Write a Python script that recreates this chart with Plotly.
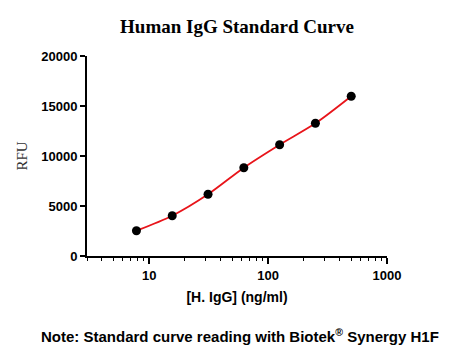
import plotly.graph_objects as go

conc = [7.8125, 15.625, 31.25, 62.5, 125, 250, 500]
rfu = [2530, 4030, 6170, 8830, 11130, 13270, 15980]
x_ticks = [10, 100, 1000]
y_ticks = [0, 5000, 10000, 15000, 20000]

fig = go.Figure()
fig.add_trace(go.Scatter(x=conc, y=rfu, mode="lines", line=dict(color="#e8141a", width=1.8, shape="spline", smoothing=0.8),
                         hoverinfo="skip", showlegend=False))
fig.add_trace(go.Scatter(x=conc, y=rfu, mode="markers", marker=dict(color="black", size=9),
                         showlegend=False))

fig.update_layout(
    width=449, height=357,
    margin=dict(l=87, r=62, t=56, b=101),
    paper_bgcolor="white", plot_bgcolor="white",
    title=dict(text="<b>Human IgG Standard Curve</b>", x=237/449, xanchor="center", y=1-26/357, yanchor="middle",
               font=dict(family="Liberation Serif", size=19, color="black")),
    font=dict(family="Liberation Sans", color="black"),
)
fig.update_xaxes(type="log", range=[0.477, 3], tickvals=x_ticks, ticktext=["<b>%d</b>" % v for v in x_ticks],
                 showline=True, linecolor="black", linewidth=2, ticks="outside", ticklen=6, tickwidth=1.5,
                 tickcolor="black", showgrid=False, zeroline=False,
                 tickfont=dict(family="Liberation Sans", size=13, color="black"),
                 minor=dict(ticks="outside", ticklen=3, tickwidth=1.2, tickcolor="black", dtick="D1", showgrid=False),
                 title=dict(text="<b>[H. IgG] (ng/ml)</b>", font=dict(family="Liberation Sans", size=14, color="black"), standoff=11))
fig.update_yaxes(range=[0, 20000], tickvals=y_ticks, ticktext=["<b>%d</b>" % v for v in y_ticks],
                 showline=True, linecolor="black", linewidth=2,
                 ticks="outside", ticklen=5, tickwidth=1.5, tickcolor="black", showgrid=False, zeroline=False,
                 tickfont=dict(family="Liberation Sans", size=13, color="black"),
                 title=dict(text="RFU", font=dict(family="Liberation Serif", size=15, color="#333"), standoff=10))

fig.add_annotation(text="<b>Note: Standard curve reading with Biotek<sup>®</sup> Synergy H1F</b>",
                   xref="paper", yref="paper", x=(240-87)/300, y=-(335.5-256)/200.3, xanchor="center", yanchor="middle",
                   showarrow=False, font=dict(family="Liberation Sans", size=15, color="black"))

fig.write_html("out.html", config={"displayModeBar": False}, post_script="document.body.style.margin='0';")
